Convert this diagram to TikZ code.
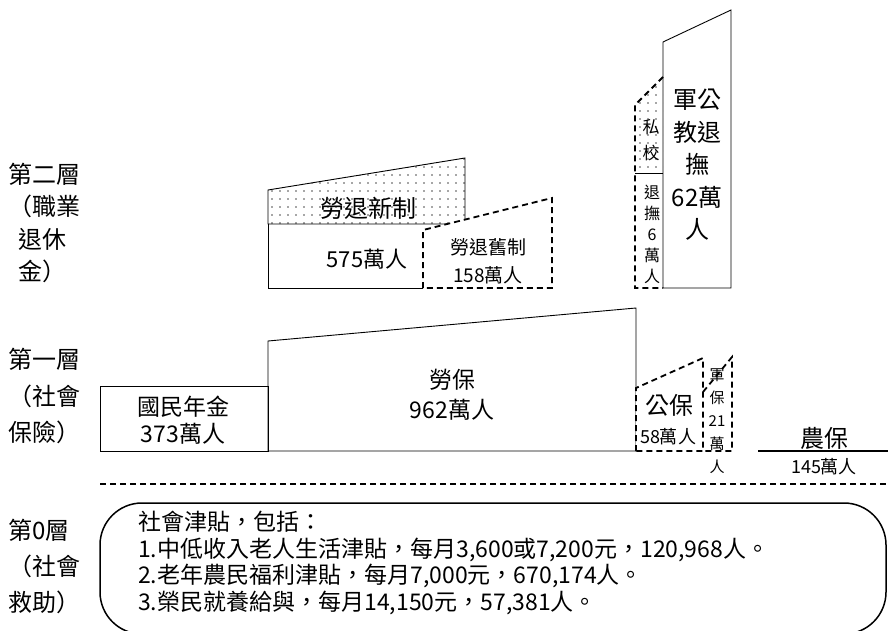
\documentclass[tikz,border=0pt]{standalone}
\usepackage{fontspec}
\setmainfont{Noto Sans CJK TC}
\usetikzlibrary{patterns.meta}
\newcommand{\fs}[2]{\fontsize{#1}{#2}\selectfont}

\begin{document}
\begin{tikzpicture}[x=1pt,y=-1pt,
    txt/.style={inner sep=0pt,align=center},
    solidline/.style={line width=0.9pt},
    dashbox/.style={dashed,dash pattern=on 6pt off 4pt,line width=1.8pt},
    dotfill/.style={pattern={Dots[distance=8pt,radius=0.9pt]},pattern color=black!70}]
            \useasboundingbox (0,0) rectangle (888,631);

            % second tier
            \fill[dotfill] (268,224) -- (268,190) -- (465,158) -- (465,224) -- cycle;
            \draw[solidline] (268,224) -- (268,190) -- (465,158) -- (465,224) -- cycle;
            \draw[solidline] (423,288) -- (268,288) -- (268,224);
            \draw[dashbox,fill=white] (423,288) -- (423,230) -- (552,198) -- (552,288) -- cycle;

            \draw (368,208) node (xinzhi) [txt,font=\fs{24}{28}] {勞退新制};
            \draw (367,259) node (xinzhinum) [txt,font=\fs{22}{26}] {575萬人};
            \draw (488,261) node (jiuzhi) [txt,font=\fs{19}{28}] {勞退舊制\\158萬人};

            \fill[dotfill] (635,173) -- (635,105) -- (663,77) -- (663,173) -- cycle;
            \draw[dashbox] (663,77) -- (635,105) -- (635,288) -- (663,288);
            \draw[solidline] (635,173) -- (663,173);
            \draw[solidline] (663,288) -- (663,42) -- (731,10) -- (731,288) -- cycle;

            \draw (697,165) node (jungongjiao) [txt,font=\fs{24}{32.5}] {軍公\\教退\\撫\\62萬\\人};
            \draw (651,140) node (sixiao) [txt,font=\fs{17}{26}] {私\\校};
            \draw (652,234) node (tuifu) [txt,font=\fs{16}{21}] {退\\撫\\6\\萬\\人};

            % first tier
            \draw[solidline] (100,386) rectangle (268,451);
            \draw[solidline] (268,451) -- (268,341) -- (636,308) -- (636,451) -- cycle;
            \draw[dashbox,fill=white] (636,451) -- (636,388) -- (703,358) -- (703,451) -- cycle;
            \draw[dashbox] (703,392) -- (732,357) -- (732,451) -- (703,451);
            \draw[line width=2pt] (758,451) -- (888,451);

            \draw (183,420) node (guomin) [txt,font=\fs{23}{27}] {國民年金\\373萬人};
            \draw (452,395) node (laobao) [txt,font=\fs{23}{30}] {勞保\\962萬人};
            \draw (669,405) node (gongbao) [txt,font=\fs{24}{28}] {公保};
            \draw (668,437) node (gongbaonum) [txt,font=\fs{18}{22}] {58萬人};
            \draw (717,421) node (junbao) [txt,font=\fs{15}{23}] {軍\\保\\21\\萬\\人};
            \draw (824,438) node (nongbao) [txt,font=\fs{24}{28}] {農保};
            \draw (824,467) node (nongbaonum) [txt,font=\fs{18}{22}] {145萬人};

            \draw[dashbox] (100,484) -- (888,484);

            % tier zero
            \draw[line width=1.5pt,rounded corners=42pt] (100,503) rectangle (886,634);
            \draw (138,563) node (jintie) [txt,anchor=west,align=left,font=\fs{23}{26.7}] {社會津貼，包括：\\1.中低收入老人生活津貼，每月3,600或7,200元，120,968人。\\2.老年農民福利津貼，每月7,000元，670,174人。\\3.榮民就養給與，每月14,150元，57,381人。};

            % tier labels
            \draw (8,223) node (ceng2) [txt,anchor=west,align=left,font=\fs{24}{32.5}] {第二層\\（職業\\\hspace*{10pt}退休\\\hspace*{10pt}金）};
            \draw (8,396) node (ceng1) [txt,anchor=west,align=left,font=\fs{24}{36.5}] {第一層\\（社會\\保險）};
            \draw (8,566) node (ceng0) [txt,anchor=west,align=left,font=\fs{24}{36}] {第0層\\（社會\\救助）};
        \end{tikzpicture}
\end{document}
